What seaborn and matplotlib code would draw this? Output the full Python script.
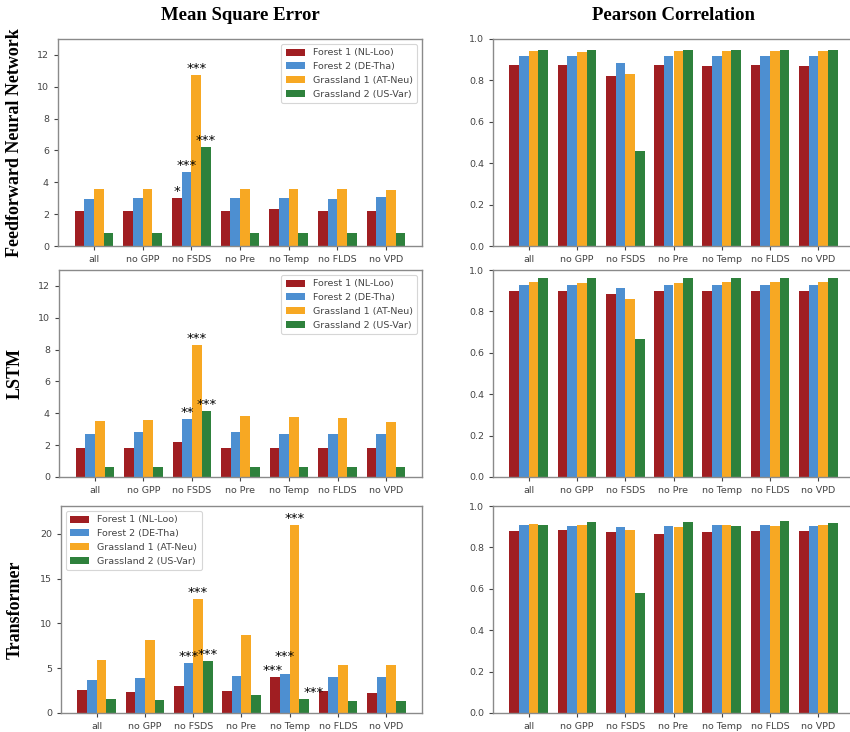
import numpy as np
import pandas as pd
import matplotlib
matplotlib.use("Agg")
import matplotlib.pyplot as plt
import seaborn as sns

# ---- data -------------------------------------------------------------
categories = ["all", "no GPP", "no FSDS", "no Pre", "no Temp", "no FLDS", "no VPD"]
sites = ["Forest 1 (NL-Loo)", "Forest 2 (DE-Tha)", "Grassland 1 (AT-Neu)", "Grassland 2 (US-Var)"]
site_colors = ["#a01e22", "#4d8fd1", "#f7a823", "#2e813c"]
models = ["Feedforward Neural Network", "LSTM", "Transformer"]

# Mean square error, one list per site (order follows `categories`)
ffnn_mse_forest1 = [2.2, 2.2, 3.0, 2.2, 2.3, 2.2, 2.2]
ffnn_mse_forest2 = [2.95, 3.0, 4.63, 3.0, 3.0, 2.95, 3.05]
ffnn_mse_grass1 = [3.6, 3.6, 10.76, 3.56, 3.6, 3.55, 3.5]
ffnn_mse_grass2 = [0.8, 0.8, 6.24, 0.8, 0.8, 0.8, 0.8]

lstm_mse_forest1 = [1.82, 1.82, 2.17, 1.82, 1.82, 1.82, 1.82]
lstm_mse_forest2 = [2.72, 2.8, 3.66, 2.8, 2.72, 2.72, 2.72]
lstm_mse_grass1 = [3.49, 3.55, 8.26, 3.8, 3.74, 3.68, 3.43]
lstm_mse_grass2 = [0.63, 0.63, 4.16, 0.63, 0.63, 0.63, 0.63]

trans_mse_forest1 = [2.6, 2.34, 2.97, 2.49, 4.01, 2.49, 2.27]
trans_mse_forest2 = [3.64, 3.87, 5.58, 4.16, 4.39, 3.98, 3.98]
trans_mse_grass1 = [5.87, 8.2, 12.7, 8.74, 20.97, 5.32, 5.39]
trans_mse_grass2 = [1.56, 1.41, 5.76, 1.97, 1.52, 1.34, 1.34]

# Pearson correlation
ffnn_r_forest1 = [0.874, 0.874, 0.823, 0.874, 0.870, 0.874, 0.870]
ffnn_r_forest2 = [0.919, 0.919, 0.884, 0.919, 0.919, 0.919, 0.919]
ffnn_r_grass1 = [0.944, 0.939, 0.829, 0.944, 0.944, 0.944, 0.944]
ffnn_r_grass2 = [0.948, 0.948, 0.461, 0.948, 0.948, 0.948, 0.948]

lstm_r_forest1 = [0.900, 0.900, 0.882, 0.900, 0.900, 0.900, 0.900]
lstm_r_forest2 = [0.927, 0.927, 0.912, 0.927, 0.927, 0.927, 0.927]
lstm_r_grass1 = [0.942, 0.937, 0.859, 0.937, 0.942, 0.942, 0.942]
lstm_r_grass2 = [0.960, 0.960, 0.668, 0.960, 0.960, 0.960, 0.960]

trans_r_forest1 = [0.881, 0.886, 0.872, 0.867, 0.876, 0.881, 0.881]
trans_r_forest2 = [0.910, 0.904, 0.899, 0.905, 0.910, 0.910, 0.905]
trans_r_grass1 = [0.915, 0.910, 0.886, 0.899, 0.910, 0.905, 0.910]
trans_r_grass2 = [0.910, 0.923, 0.578, 0.923, 0.905, 0.928, 0.918]

# Significance markers on the MSE bars: (site index, category, label)
ffnn_stars = [(0, "no FSDS", "*"), (1, "no FSDS", "***"), (2, "no FSDS", "***"), (3, "no FSDS", "***")]
lstm_stars = [(1, "no FSDS", "**"), (2, "no FSDS", "***"), (3, "no FSDS", "***")]
trans_stars = [(1, "no FSDS", "***"), (2, "no FSDS", "***"), (3, "no FSDS", "***"),
               (0, "no Temp", "***"), (1, "no Temp", "***"), (2, "no Temp", "***"), (3, "no Temp", "***")]

# Nudges (in points) for markers that would otherwise collide: (panel, site, category) -> (dx, dy)
star_nudges = {
    (2, 0, "no Temp"): (-2, 0),
    (2, 1, "no Temp"): (0, 8),
    (2, 3, "no Temp"): (7, 0),
}


def long_table(series):
    rows = []
    for site, vals in zip(sites, series):
        for cat, v in zip(categories, vals):
            rows.append({"category": cat, "site": site, "value": v})
    return pd.DataFrame(rows)


mse_tables = [
    long_table([ffnn_mse_forest1, ffnn_mse_forest2, ffnn_mse_grass1, ffnn_mse_grass2]),
    long_table([lstm_mse_forest1, lstm_mse_forest2, lstm_mse_grass1, lstm_mse_grass2]),
    long_table([trans_mse_forest1, trans_mse_forest2, trans_mse_grass1, trans_mse_grass2]),
]
r_tables = [
    long_table([ffnn_r_forest1, ffnn_r_forest2, ffnn_r_grass1, ffnn_r_grass2]),
    long_table([lstm_r_forest1, lstm_r_forest2, lstm_r_grass1, lstm_r_grass2]),
    long_table([trans_r_forest1, trans_r_forest2, trans_r_grass1, trans_r_grass2]),
]
star_sets = [ffnn_stars, lstm_stars, trans_stars]
mse_ylims = [13, 13, 23.1]
mse_ticks = [np.arange(0, 13, 2), np.arange(0, 13, 2), np.arange(0, 21, 5)]
legend_locs = ["upper right", "upper right", "upper left"]

# ---- layout -----------------------------------------------------------
W, H = 850, 732
fig = plt.figure(figsize=(W / 100, H / 100), dpi=100)


def px_axes(x0, x1, y0, y1):
    return fig.add_axes([x0 / W, 1 - y1 / H, (x1 - x0) / W, (y1 - y0) / H])


left_boxes = [(58, 422, 39, 246), (59, 422, 270, 477), (61, 422, 506, 713)]
right_boxes = [(493, 854, 39, 246), (493, 854, 270, 477), (493, 854, 506, 713)]

tick_fs = 6.8
tick_color = "#444444"
spine_color = "#8a8a8a"


def style_axes(ax):
    for s in ax.spines.values():
        s.set_color(spine_color)
        s.set_linewidth(1.0)
    ax.tick_params(labelsize=tick_fs, colors=tick_color, length=3, width=0.8)
    ax.set_xlabel("")
    ax.set_ylabel("")
    ax.set_xlim(-0.74, 6.74)


bar_kw = dict(x="category", y="value", hue="site", order=categories, hue_order=sites,
              palette=site_colors, saturation=1, width=0.8, linewidth=0, errorbar=None)

for i in range(3):
    # Mean square error panel
    ax = px_axes(*left_boxes[i])
    sns.barplot(data=mse_tables[i], ax=ax, **bar_kw)
    style_axes(ax)
    ax.set_ylim(0, mse_ylims[i])
    ax.set_yticks(mse_ticks[i])
    for site_idx, cat, label in star_sets[i]:
        bar = ax.containers[site_idx][categories.index(cat)]
        dx, dy = star_nudges.get((i, site_idx, cat), (0, 0))
        ax.annotate(label, (bar.get_x() + bar.get_width() / 2, bar.get_height()),
                    xytext=(dx, dy), textcoords="offset points",
                    ha="center", va="bottom", fontsize=9.5, color="black")
    leg = ax.legend(loc=legend_locs[i], fontsize=tick_fs, frameon=True,
                    handlelength=2.0, handleheight=0.8, labelspacing=0.5,
                    borderpad=0.5)
    leg.get_frame().set_edgecolor("#cccccc")
    leg.get_frame().set_linewidth(0.8)
    for t in leg.get_texts():
        t.set_color(tick_color)

    # Pearson correlation panel
    ax = px_axes(*right_boxes[i])
    sns.barplot(data=r_tables[i], ax=ax, legend=False, **bar_kw)
    style_axes(ax)
    ax.set_ylim(0, 1.0)
    ax.set_yticks(np.arange(0, 1.01, 0.2))

    # Row label for the model
    cy = (left_boxes[i][2] + left_boxes[i][3]) / 2
    fig.text(15 / W, 1 - cy / H, models[i], rotation=90, ha="center", va="center",
             fontsize=13, fontweight="bold", family="Liberation Serif")

# Column titles
fig.text(240 / W, 1 - 15 / H, "Mean Square Error", ha="center", va="center",
         fontsize=13.5, fontweight="bold", family="Liberation Serif")
fig.text(673 / W, 1 - 15 / H, "Pearson Correlation", ha="center", va="center",
         fontsize=13.5, fontweight="bold", family="Liberation Serif")

fig.savefig("out.png", dpi=100)
